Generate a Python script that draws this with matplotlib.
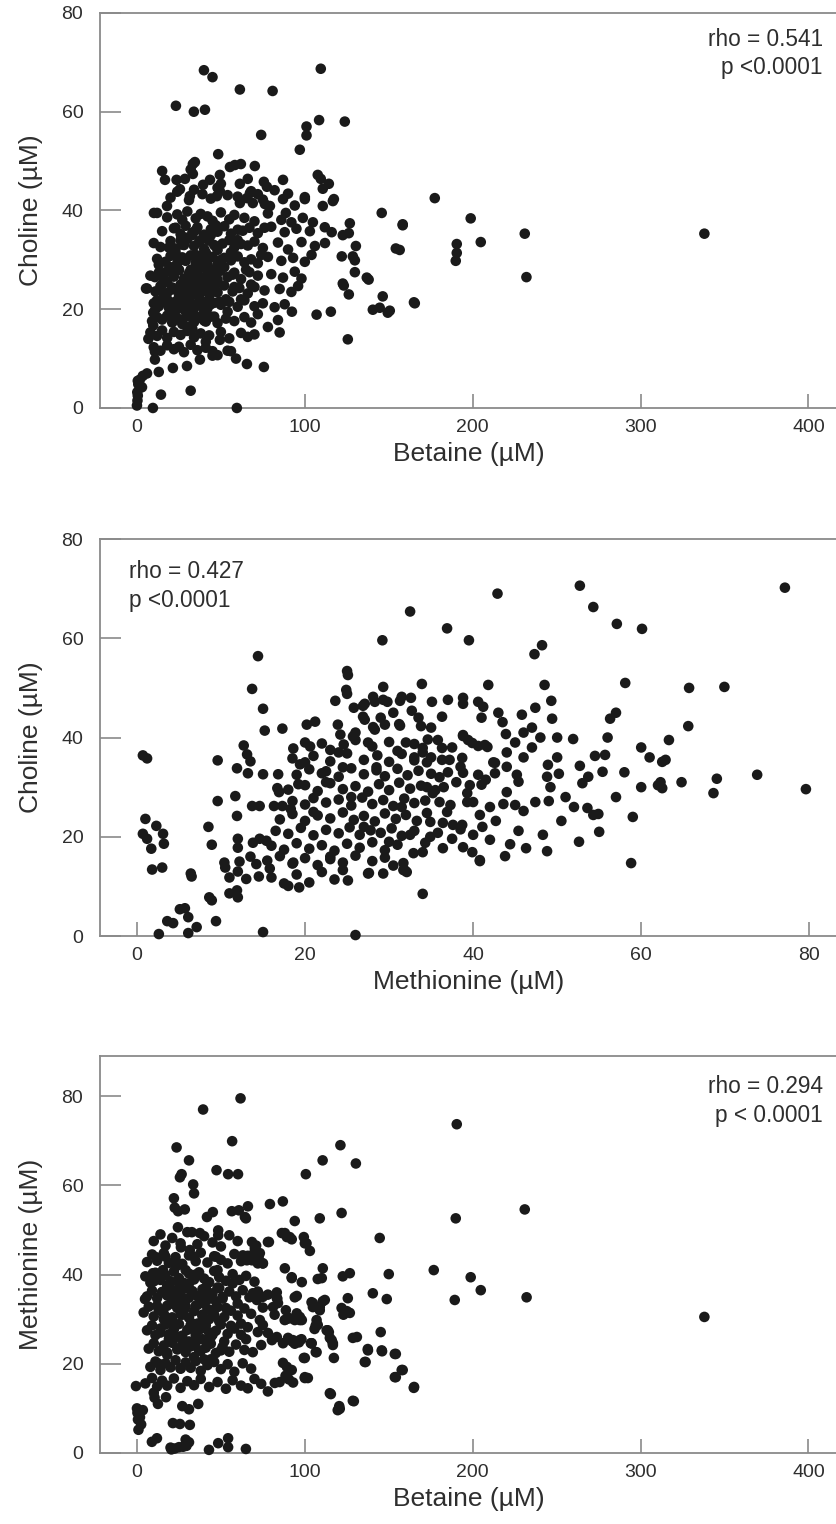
import matplotlib
matplotlib.use("Agg")
import matplotlib.pyplot as plt

plt.rcParams['font.family'] = ['Liberation Sans', 'DejaVu Sans']

# ---------------- Panel 1: Choline vs Betaine ----------------
betaine_1 = [
    39.9, 45, 109.5, 61.3, 80.8, 23.2, 33.9, 40.5, 108.5, 123.8, 101, 101, 74, 97, 48.4,
    15, 16.7, 23.6, 25.6, 28.6, 33.3, 34.5, 32, 33.3, 39.4, 43.5, 31.5, 49.4, 50,
    55.4, 58.3, 61.9, 70.2, 61.3, 66, 49.4, 47.6, 61.3, 67.3, 69, 65.5, 75.6, 77.4,
    72, 76.2, 79.2, 87, 87, 94, 88.7, 100, 107.7, 109.5, 114.3, 110.7, 117.3, 116.7,
    110.7, 10.1, 17.9, 98.8, 104.8, 111.9, 116, 122.6, 126.8, 126.2, 145.8, 158.3,
    154.2, 130.4, 122, 128.6, 129.8, 129.8, 136.9, 138, 122.6, 123.2, 126.2, 146.4,
    140.5, 144.6, 149.4, 150.6, 165, 107, 115.5, 125.6, 92.3,
    177.4, 198.8, 158.3, 156.5, 190.5, 190.5, 189.9, 204.8, 231, 232, 338, 165.5,
    0, 0.3, 0.5, 0.2, 0.8, 9.5, 59.5, 32, 14.3, 0.5, 3.5, 6, 13, 21.4, 29.8, 37.5,
    48, 56, 59, 65.5, 75.6, 5.4, 10.7, 11.9, 9.7, 9.7, 6.8, 10.7, 10.7, 45, 54,
    41, 49.4, 1.7, 3,
]
choline_1 = [
    68.4, 67, 68.7, 64.5, 64.2, 61.2, 60, 60.4, 58.3, 58, 57, 55.2, 55.3, 52.3, 51.4,
    48, 46.2, 46.2, 44.3, 46.4, 49.4, 49.8, 48.3, 47.4, 45.2, 46.2, 42.9, 47.2, 45.4,
    48.8, 49.2, 49.4, 49, 45.4, 46.4, 43.9, 42.9, 41.5, 43.5, 41.5, 42.5, 45.8, 44.8,
    43.3, 41.3, 40.9, 46.2, 42.3, 41, 39.5, 42.3, 47.2, 46.4, 45.4, 44.4, 42.3, 41.9,
    40.9, 39.5, 40.9, 38.5, 37.6, 36.6, 35.6, 35, 37.4, 35.4, 39.5, 37.2,
    32.3, 32.8, 30.7, 30.7, 29.9, 27.5, 26.4, 26, 25.2, 24.8, 23, 22.6,
    19.9, 20.3, 19.3, 19.7, 21.4, 18.9, 19.5, 13.9, 19.5,
    42.5, 38.4, 37, 32, 33.2, 31.4, 29.8, 33.6, 35.3, 26.5, 35.3, 21.2,
    0.5, 1.5, 2.5, 3.2, 4.8, 0, 0, 3.5, 2.7, 5.5, 6.5, 7, 7.3, 8.1, 8.5, 9.8,
    10.7, 11.5, 10, 8.9, 8.3, 24.2, 26.5, 21.8, 19.3, 16.7, 14, 11.4, 9.8, 10.6, 11.6,
    13.4, 13.8, 5.7, 4.2,
]
core_betaine_1 = [
    12, 18, 24, 27, 30, 35, 38, 42, 45, 50, 55, 58, 64, 70, 78, 86, 92,
    15, 22, 26, 29, 33, 36, 40, 44, 48, 52, 56, 60, 63, 67, 72, 80, 88, 95, 103,
    10, 14, 20, 23, 27, 30, 34, 37, 40, 43, 47, 51, 55, 58, 62, 66, 70, 75, 84, 90, 98, 106, 112,
    12, 17, 20, 24, 27, 29, 32, 35, 38, 41, 45, 48, 52, 56, 60, 64, 68, 72, 78, 86, 93, 100, 104,
    8, 13, 16, 19, 22, 25, 28, 31, 33, 36, 39, 42, 46, 50, 54, 58, 62, 67, 72, 80, 87, 94, 98,
    6, 11, 14, 18, 21, 24, 27, 30, 32, 35, 38, 41, 44, 48, 52, 57, 61, 66, 70, 76, 85, 92, 96,
    10, 13, 16, 19, 22, 25, 28, 30, 33, 36, 39, 42, 46, 50, 55, 60, 64, 70, 75, 82, 88,
    9, 12, 15, 18, 21, 24, 27, 30, 34, 37, 40, 44, 48, 53, 58, 64, 68, 78, 84,
    8, 12, 15, 18, 22, 26, 30, 34, 38, 43, 50, 55, 62, 66, 70, 85,
    10, 14, 18, 22, 25, 28, 32, 36, 41, 45,
    20, 24, 31, 34, 39, 44, 48, 54, 60, 68, 75, 82, 90, 100,
    16, 18, 20, 22, 23, 25, 26, 28, 29, 30, 31, 32, 33, 34, 35, 36, 37, 38, 39, 40,
    41, 42, 43, 44, 45, 46, 47, 48, 49, 52, 54, 56, 58, 60, 62, 65, 68, 72, 74, 76,
    17, 19, 21, 23, 24, 26, 27, 29, 30, 32, 33, 35, 36, 38, 39, 41, 43, 44, 46, 47,
    18, 20, 22, 25, 28, 31, 34, 37, 40, 42, 45, 48, 50, 53, 57, 15, 13, 11, 26, 33,
]
core_choline_1 = [
    39.5, 38.6, 39.2, 38.1, 39.8, 38.4, 39.3, 38.8, 37.9, 39.6, 38.2, 39.1, 38.5, 37.8, 39.4, 38.1, 37.6,
    35.8, 36.4, 35.2, 36.9, 35.5, 36.6, 35.1, 36.2, 35.7, 36.8, 35.3, 36.1, 35.9, 36.5, 35.4, 36.7, 35.6, 36.3, 35.8,
    33.4, 32.6, 33.8, 32.3, 33.1, 34.2, 32.8, 33.6, 32.2, 33.9, 32.7, 33.3, 34.0, 32.5, 33.2, 32.9, 33.7, 32.4, 33.5, 32.1, 33.6, 32.8, 33.4,
    30.2, 29.6, 30.8, 29.3, 30.5, 29.8, 30.9, 29.4, 30.3, 29.7, 30.6, 29.2, 30.4, 29.9, 30.7, 29.5, 30.1, 29.3, 30.6, 29.8, 30.4, 29.6, 31.0,
    26.8, 27.4, 26.3, 27.7, 26.6, 27.9, 26.2, 27.3, 26.9, 27.6, 26.4, 27.2, 26.7, 27.8, 26.5, 27.4, 26.1, 27.5, 26.8, 27.1, 26.4, 27.6, 26.2,
    24.2, 23.6, 24.7, 23.3, 24.4, 23.8, 24.9, 23.5, 24.3, 23.1, 24.6, 23.7, 24.1, 23.4, 24.8, 23.6, 24.3, 23.2, 24.5, 23.8, 24.1, 23.5, 24.7,
    21.2, 20.6, 21.7, 20.3, 21.4, 20.8, 21.9, 20.4, 21.1, 20.7, 21.6, 20.2, 21.3, 20.9, 21.5, 20.5, 21.8, 20.6, 21.2, 20.4, 21.0,
    17.6, 18.4, 17.9, 18.7, 17.3, 18.2, 17.8, 18.6, 17.4, 18.3, 17.7, 18.5, 17.2, 18.1, 17.6, 18.4, 17.3, 16.4, 17.8,
    15.3, 14.6, 15.7, 14.2, 15.4, 14.8, 15.6, 14.3, 15.1, 14.7, 15.4, 14.1, 15.2, 14.4, 14.9, 15.3,
    12.3, 11.6, 12.7, 11.9, 12.4, 11.3, 12.8, 11.7, 12.2, 11.5,
    42.6, 43.8, 42.1, 44.2, 43.3, 42.4, 44.6, 43.1, 42.8, 43.9, 42.2, 44.1, 43.4, 42.7,
    23, 25.5, 28.5, 19, 31.5, 22.5, 25, 33, 19.5, 26, 22, 28, 35, 19, 31, 25, 22.5, 34, 28.5, 19.5,
    31.5, 25.5, 22, 35, 28, 18.5, 25, 32, 21.5, 28.5, 19.5, 31.5, 24.5, 34, 22, 28, 25, 19, 31, 36.5,
    27.5, 32.5, 24, 36.5, 20, 30, 17, 34.5, 22, 27, 19, 36, 29, 23.5, 31, 17.5, 26.5, 21, 33, 37,
    22, 19, 31, 28, 23, 16.5, 26, 21, 34.5, 29, 23.5, 26, 30, 22, 27, 25, 29, 20, 34, 16,
]

# ---------------- Panel 2: Choline vs Methionine ----------------
methionine_2 = [
    0.7, 1.2, 1, 0.7, 1.2, 1.7, 2.3, 3.1, 3.2, 1.8, 3, 2.6, 3.6, 4.3, 5.1, 5.7, 6.1, 6.1, 7.1,
    6.4, 6.5, 8.5, 8.9, 8.6, 8.9, 9.4, 9.6, 9.6, 10.4, 10.5, 11, 11, 11.9, 12, 11.9, 11.9,
    11.7, 12, 12, 12.2, 12, 12.7, 13.1, 13.5, 13.2, 13.7, 14.4, 15, 15.2, 15, 15, 13.7,
    14.6, 16.3, 17.3, 18.3, 13.8, 14.6, 15.4, 13.5, 14.2, 13, 14.5, 15.8, 17.3, 16.8,
    16.7, 16.9, 17.5, 18, 18.6, 19.3, 18.6, 19.4, 19.2, 20.2, 21.2, 20.6, 22, 22, 23.6,
    25, 25.1, 25, 23.9, 24.2, 24.6, 25.7, 25.8, 26.9, 27.1, 28.3, 29.3, 29.3, 29.2, 28.3,
    29.5, 31.3, 31.3, 32.6, 32.7, 32.5, 25.1, 26, 27.5, 29.3, 30.5, 31.9, 34,
    52.7, 77.1, 42.9, 54.3, 57.1, 60.1, 36.9, 39.5, 48.2, 47.3, 58.1, 65.7, 69.9, 56.3,
    65.6, 63.3, 62.5, 62.9, 62, 62.5, 62.3, 64.8, 69, 68.6, 73.8, 79.6, 58.8, 51.9, 54.5,
    55.7, 52.7, 53.7, 53, 55.4, 53.6, 54.3, 54.9, 52.6, 50.5, 50.2, 48.8, 48.3, 49, 47.4,
    46.3, 43.8, 44.4, 40.8, 42, 45.4, 42.7, 43.6, 45, 46, 48.9, 48.8, 49.2, 49.4, 49.3,
    47.4, 45.8, 48.5, 41.8, 43, 43.5, 43.9, 40.6, 41.2, 41, 38.8, 38.8, 37, 35.1, 33.9,
    36.3, 33.8, 38.8, 39.4, 40.6, 41.7, 34, 35.8, 36.3, 36.3, 38.7, 38.5, 38.8, 40.6,
    41.5, 42.6, 41, 42.6, 44, 45.2, 45.4, 39.3, 39.3, 37.3, 36.9, 35.2, 34.5, 34.9, 36.4,
    37.6, 38.7, 37.5, 38.5, 35.8, 34.9, 34.3, 34, 32.9, 32.5, 36.4, 39.9, 38.8, 39.6,
    31.7, 40.8, 41.1, 40, 40.8, 32.1, 31.7, 27.6, 29.8, 31.5, 31.2, 28.1, 26.9, 28.1,
    27.1, 25.8, 24.9, 38.8, 39.9, 41.4, 35, 34.5, 37.2, 42.4, 36, 37, 55, 51, 52, 50,
    57, 58, 59, 60, 61, 56, 57, 60, 47, 46, 45, 48, 44,
]
choline_2 = [
    36.4, 35.8, 23.6, 20.6, 19.6, 17.6, 22.2, 20.6, 18.6, 13.4, 13.8, 0.4, 3, 2.6, 5.4, 5.6, 3.8, 0.6, 1.8,
    12.6, 12, 22, 18.4, 7.8, 7.2, 3, 35.4, 27.2, 14.8, 13.8, 11.8, 8.6, 9.2, 7.8, 33.8, 24.2,
    28.2, 19.6, 17.8, 15, 13, 38.4, 36.6, 35.2, 32.8, 49.8, 56.4, 45.8, 41.4, 32.6, 0.8, 26.2,
    26.2, 26.2, 26.2, 25.6, 18.8, 19.6, 19.2, 16, 14.5, 11.5, 12, 13.6, 41.8, 32.6,
    29.8, 29, 10.6, 10.1, 14.8, 9.8, 37.8, 34.6, 30.6, 42.6, 43.2, 38.2, 38.8, 32.8, 47.4,
    48.8, 52.6, 53.4, 42.6, 40.6, 38.6, 40.2, 46, 46.4, 43.6, 47.2, 47.6, 50.2, 59.6, 41.6,
    42.6, 42.4, 47.4, 48, 45.4, 65.4, 11.2, 0.2, 12.6, 12.6, 14.2, 13.2, 8.5,
    70.6, 70.2, 69, 66.3, 62.9, 61.9, 62, 59.6, 58.6, 56.8, 51, 50, 50.2, 43.8,
    42.3, 39.5, 35.1, 35.5, 30.4, 29.8, 31, 31, 31.7, 28.8, 32.5, 29.6, 14.7, 39.7, 36.3,
    36.5, 34.3, 32.1, 30.8, 33.1, 25.8, 24.4, 24.6, 19, 23.2, 32.7, 17.1, 20.4, 27.2, 27,
    17.7, 16.1, 18.5, 15.1, 19.4, 21.2, 23.2, 26.6, 26.4, 25.2, 34.5, 32.1, 30, 43.8, 47.4,
    46, 44.6, 50.6, 50.6, 45, 43.1, 40.7, 47.2, 46.2, 44, 48, 46.8, 47.6, 47.2, 50.8,
    44.2, 42.3, 40.5, 39.5, 38.3, 38.1, 37.9, 39.5, 37.9, 35.5, 35.9, 34.1, 32.9, 32.5,
    31.5, 32.8, 30.5, 34.9, 34.1, 32.5, 31.1, 28.8, 27, 26.4, 25, 28.8, 24.8, 23, 22.8,
    22.4, 22.4, 19.6, 21.5, 20.8, 20, 18.8, 16.9, 16.7, 20.4, 17.7, 16.9, 17.9, 30.4,
    13.3, 24.4, 22, 20.4, 15.3, 12.9, 14.7, 12.7, 47.2, 48.2, 42.7, 42.1, 44.2, 48.2,
    46.8, 40.3, 49.6, 40.3, 38.9, 38.5, 36, 35, 35.5, 35, 32, 33, 21, 28, 26, 36,
    28, 33, 24, 30, 36, 40, 45, 38, 38, 41, 39, 40, 37,
]
core_methionine_2 = [
    20, 23, 26, 28, 30, 31, 33, 34.6,
    18.5, 21, 23, 25, 27, 28.6, 30, 31.5, 33, 34,
    19, 20.5, 22.5, 24, 25.5, 27, 28.5, 29.5, 31, 32.2, 33.5, 35,
    18, 20, 21.5, 23, 24.5, 26, 27.5, 28.8, 30, 31.2, 32.5, 33.8, 35.5,
    18.5, 20, 21, 22.5, 24, 25.5, 26.8, 28, 29.3, 30.5, 31.8, 33, 34.3,
    17, 18.5, 20, 21.5, 23, 24.5, 25.8, 27, 28.3, 29.5, 30.8, 32, 33.3,
    16.5, 18, 19.5, 21, 22.5, 24, 25.3, 26.5, 27.8, 29, 30.3, 31.5, 33,
    16, 17.5, 19, 20.5, 22, 23.5, 25, 26.5, 28, 29.5, 31,
    15.5, 17, 18.5, 20, 21.5, 23, 24.5, 26, 28, 29.5,
    16, 19, 20.5, 22, 23.5, 24.5,
    21, 22.5, 24, 25.5, 27, 28.5, 30, 31.5, 33, 34.5, 36, 37.5, 26, 29, 32,
    35, 23, 20, 38, 40, 44, 46, 42, 47, 50, 36.5, 33.5, 30.5, 27.5, 24.5,
]
core_choline_2 = [
    39, 37.5, 39.5, 38.2, 39.1, 37.3, 38.7, 39.6,
    35.8, 36.3, 35.2, 36.8, 35.5, 36.4, 35.1, 36.7, 35.4, 37,
    32.5, 33.6, 33.2, 32.1, 33.8, 32.6, 33.4, 32.2, 33.7, 32.4, 33.3, 32.7,
    29.5, 30.4, 29.2, 30.8, 29.6, 30.2, 29.1, 30.6, 29.4, 30.9, 29.7, 30.3, 29.4,
    27.2, 26.5, 27.8, 26.9, 27.5, 26.3, 27.9, 26.6, 27.4, 26.2, 27.7, 26.8, 27.3,
    23.5, 24.6, 23.2, 24.3, 23.7, 24.9, 23.4, 24.2, 23.1, 24.7, 23.6, 24.4, 23.2,
    21.2, 20.6, 21.8, 20.3, 21.4, 20.7, 21.9, 20.4, 21.3, 20.8, 21.7, 20.2, 21.2,
    18.2, 17.4, 18.7, 17.6, 18.3, 17.2, 18.6, 17.8, 18.9, 17.3, 18.4,
    15.2, 16.1, 14.6, 15.7, 14.3, 15.5, 14.8, 16.2, 15.1, 15.8,
    11.8, 12.4, 10.8, 12.9, 11.4, 13.3,
    25, 31, 37, 28, 22, 34, 19, 26, 36, 30, 27, 38, 41, 44, 39,
    42, 16, 35, 31, 27, 29, 36, 26, 42, 40, 30, 44, 45, 39, 34,
]

# ---------------- Panel 3: Methionine vs Betaine ----------------
betaine_3 = [
    61.7, 39.4, 56.7, 23.6, 31, 26.6, 25.6, 33.5, 34, 47.4, 54.3, 60.2, 100.6, 110.6, 121.2,
    130.4, 121.9, 108.9, 94, 86.9, 79.2, 66.1, 64.9, 56.5, 60.7, 41.7, 45.2, 22, 22.5, 24.5,
    28.5, 24.4, 32.7, 37.5, 48.4, 48.4, 26.2, 31.5, 78.6, 88.1, 91, 99.4, 100, 103, 71,
    70, 72.5, 63.1, 75, 11.3, 9.5, 15.5, 10.1, 4.8, -0.6, 0, 0.3, 0.6, 0.9, 1.8, 2.5, 3.5,
    8.9, 11.9, 20, 22.5, 25, 27.5, 29.5, 20.5, 29, 31, 42.9, 48.4, 54.3, 54.3, 64.9, 21.4,
    25.6, 31.5, 27, 31, 36.5, 10.5, 12.5, 10, 17.3,
    120.5, 129.2, 115.5, 117.3, 153.6, 157.7, 165.1, 136.2, 137.6, 146, 153.6, 128.6, 131,
    145.2, 140.5, 148.8, 150, 144.6, 121.9, 125, 126.8, 123, 125.6, 122.6, 126.8, 110.7,
    110.1, 107.7, 110.7, 108.9, 104.8, 114.3, 116, 116.7, 107, 106.5, 105.8, 106.5, 104,
    99.4, 100, 101.8, 98.2, 97, 98, 96.5, 94, 92.5, 98.2, 92.2, 94, 88.7, 89, 83.3, 83.6,
    87, 89.3, 92.2, 88.5, 90.5, 93, 82.1, 190.5, 231, 189.9, 176.8, 198.8, 204.8, 189.3,
    232.1, 338, 113.7, 114.9, 137.5, 135.7, 145.8, 154.2, 158.3, 154.2, 164.9, 100, 100,
    120.8, 128.6, 103.6,
    86.3, 89.3, 92.2, 101, 78, 88.1, 92.2, 83.3, 84, 81, 95.2, 104, 104.8, 108.9, 111.9,
    107.7, 113, 116.7, 88, 91, 94, 97, 95.2, 69, 71.4, 75, 73.2, 75, 78, 80.4, 83.3, 87,
    90, 92.9, 97, 104, 107, 85, 114.9, 119.6, 65.5, 68.5, 72, 64.3, 68.5, 70.2, 73.2, 75,
]
methionine_3 = [
    79.5, 77, 69.9, 68.5, 65.6, 62.5, 61.8, 60.2, 58.2, 63.4, 62.5, 62.5, 62.5, 65.6, 69,
    64.9, 53.8, 52.6, 52, 56.4, 55.8, 55.3, 52.6, 54.2, 54.4, 52.9, 54, 57.1, 55, 54.2,
    54.6, 50.6, 49.5, 49.3, 49.9, 48.8, 46.1, 45.5, 47.3, 49.3, 48.4, 48.4, 47, 45.3, 46.5,
    45, 44, 44.3, 42.5, 43.9, 40.3, 41, 38.5, 34.5, 15, 10, 9, 7.5, 5.2, 8, 6.4, 9.6,
    2.5, 3.3, 1.2, 1.0, 1.3, 1.4, 1.6, 0.8, 3, 2.4, 0.7, 2.2, 3.3, 1.3, 0.9, 6.7,
    6.5, 6.3, 10.5, 9.8, 11, 12.4, 11, 13.5, 12.5,
    10.5, 11.6, 13.2, 21.3, 17, 18.6, 14.8, 20.4, 23, 22.8, 22.2, 25.8, 26,
    27.1, 35.8, 34.5, 40.1, 48.2, 32.5, 31.8, 31.4, 31, 34.7, 39.6, 40.3, 41.4,
    39.2, 39, 34, 32.7, 33.6, 27.1, 25.3, 24.2, 29.8, 28.6, 27.8, 22.6, 24.6,
    21.3, 16.8, 16.8, 29.8, 30.5, 25.5, 24.8, 24.5, 25, 38.3, 39.4, 34.9, 32, 30, 36, 34.6,
    20.2, 19.3, 18.6, 17.3, 16.5, 15.8, 15.7, 73.7, 54.6, 52.6, 41, 39.4, 36.5, 34.3,
    34.9, 30.5, 27.5, 25.8, 23.3, 20.4, 23, 22.2, 18.6, 17, 14.6, 21.3, 17,
    9.9, 11.7, 24.6,
    49.3, 48.4, 47.9, 47, 47.3, 41.4, 39.2, 34.7, 33.6, 32.7, 35.2, 33.8, 32.7, 32, 34.3,
    28.7, 27.5, 24.6, 29.8, 30.2, 29.8, 29.8, 31.3, 35.8, 34.3, 35, 29.8, 28.7, 26.9, 25.3,
    26, 24.6, 25.8, 25.3, 25.3, 24.6, 22.6, 15.9, 13.4, 9.6, 43.2, 43.2, 42.5, 52.9, 47.3,
    45.9, 44.8, 42.5,
]
core_betaine_3 = [
    10, 14, 17, 21, 26, 30, 36, 40, 45, 50, 55, 60,
    6, 9, 12, 16, 19, 23, 27, 31, 35, 38, 42, 46, 50, 54, 58, 62, 66,
    5, 8, 11, 14, 17, 20, 22, 25, 28, 31, 34, 37, 40, 43, 46, 49, 53, 57, 61, 65, 70,
    6, 9, 12, 15, 18, 20, 23, 26, 28, 31, 33, 36, 39, 42, 45, 48, 51, 55, 59, 63, 67, 72, 78,
    4, 7, 10, 13, 16, 18, 21, 24, 26, 29, 31, 34, 36, 39, 42, 45, 48, 52, 56, 60, 64, 68, 75, 82,
    6, 9, 11, 14, 17, 19, 22, 25, 27, 30, 32, 35, 38, 41, 44, 47, 50, 54, 58, 62, 66, 72,
    7, 10, 13, 16, 18, 21, 24, 27, 29, 32, 35, 38, 41, 44, 47, 51, 55, 59, 64, 69, 74,
    8, 11, 14, 17, 20, 23, 26, 29, 32, 35, 38, 42, 46, 50, 54, 58, 63, 68,
    5, 9, 12, 15, 18, 22, 26, 30, 34, 38, 43, 48, 53, 57, 62, 66, 70, 74, 78,
    16, 18, 19, 21, 22, 24, 25, 27, 28, 30, 31, 33, 34, 35, 37, 39, 40, 41, 43, 44,
    45, 47, 49, 52, 53, 56, 57, 60, 62, 65,
    12, 14, 16, 18, 20, 22, 24, 26, 28, 30, 32, 34, 36, 38, 40, 42, 44, 46, 48, 50,
    13, 17, 21, 25, 29, 33, 37, 41, 45, 49, 15, 19, 23, 27, 31, 35, 39, 43, 47, 51,
]
core_methionine_3 = [
    47.5, 49, 46.5, 48.2, 47, 49.5, 46.8, 48.6, 47.2, 46.3, 48.8, 47.5,
    42.8, 44.5, 43.1, 44.8, 42.6, 43.9, 42.4, 44.3, 43, 44.9, 42.7, 44.1, 43.3, 42.5, 44.6, 43, 44.2,
    39.6, 38.2, 40.4, 38.8, 39.9, 38.5, 40.7, 39.2, 38.1, 40.2, 38.9, 40.5, 39.1, 38.3, 40.8, 39.4, 38.6, 40.1, 38.8, 39.7, 38.4,
    35.1, 36.4, 34.7, 36.1, 35.3, 36.8, 34.5, 35.9, 37, 34.8, 36.3, 35.2, 36.7, 34.4, 35.8, 37.1, 34.6, 36.2, 35.1, 36.5, 34.9, 36.2, 35.5,
    31.5, 32.8, 30.6, 32.1, 31.2, 33, 30.4, 32.5, 31.1, 32.9, 30.3, 31.8, 33.2, 30.7, 32.3, 31, 32.7, 30.5, 31.9, 30.8, 32.4, 31.2, 32.6, 31,
    27.5, 28.6, 26.4, 27.9, 28.8, 26.6, 27.7, 28.9, 26.3, 27.6, 28.7, 26.5, 27.8, 28.6, 26.9, 27.4, 28.8, 26.7, 27.9, 26.5, 28.2, 27.1,
    23.4, 24.6, 22.8, 24.1, 22.5, 24.7, 23.2, 24.4, 22.6, 23.9, 24.8, 22.9, 23.6, 24.5, 22.4, 23.8, 22.7, 24.3, 23.1, 22.6, 24.2,
    19.3, 20.5, 18.6, 20.1, 19.2, 20.8, 18.9, 20.3, 19.1, 20.6, 18.4, 19.7, 20.4, 18.8, 19.9, 18.2, 20.1, 18.9,
    15.6, 16.8, 14.9, 16.2, 15.1, 16.7, 14.6, 16.1, 15.2, 16.6, 14.8, 15.9, 14.4, 16.3, 15.1, 14.5, 16.6, 15.5, 13.8,
    30, 37.5, 25.5, 33.5, 29, 36.5, 26, 31, 34.5, 24, 38, 28, 21.5, 33, 29, 25.5, 33.5, 37, 30, 21,
    26.5, 34, 29.5, 25, 32.5, 28.5, 38, 33.5, 29, 25.5,
    33, 27, 40, 22, 35, 28, 42, 19, 32, 37, 24, 44, 29, 34, 21, 38, 26, 31, 41, 23,
    20, 44, 26, 38, 41, 29, 23, 35, 32, 37, 36, 30, 43, 33, 25, 40, 31, 27, 44, 35,
]

# ---------------- Labels / annotations ----------------
x_labels = ["Betaine (µM)", "Methionine (µM)", "Betaine (µM)"]
y_labels = ["Choline (µM)", "Choline (µM)", "Methionine (µM)"]
rho_texts = ["rho = 0.541", "rho = 0.427", "rho = 0.294"]
p_texts = ["p <0.0001", "p <0.0001", "p < 0.0001"]
x_ticks = [[0, 100, 200, 300, 400], [0, 20, 40, 60, 80], [0, 100, 200, 300, 400]]
y_ticks = [[0, 20, 40, 60, 80], [0, 20, 40, 60, 80], [0, 20, 40, 60, 80]]

panels = [
    (betaine_1 + core_betaine_1, choline_1 + core_choline_1),
    (methionine_2 + core_methionine_2, choline_2 + core_choline_2),
    (betaine_3 + core_betaine_3, methionine_3 + core_methionine_3),
]
xlims = [(-22, 417), (-4.4, 83.3), (-22, 417)]
ylims = [(0, 80), (0, 80), (0, 89)]
positions = [
    [0.1195, 0.7323, 0.8805, 0.2592],
    [0.1195, 0.3858, 0.8805, 0.2605],
    [0.1195, 0.0466, 0.8805, 0.2605],
]
text_pos = [
    ("right", 0.981, 0.932, 0.861),
    ("left", 0.039, 0.917, 0.846),
    ("right", 0.981, 0.922, 0.851),
]

SPINE = "#8a8a8a"
TXT = "#2e2e2e"
DOT = "#1a1a1a"

fig = plt.figure(figsize=(8.37, 15.24), dpi=100)
for i in range(3):
    ax = fig.add_axes(positions[i])
    xs, ys = panels[i]
    ax.scatter(xs, ys, s=58, color=DOT, edgecolors="none", clip_on=False, zorder=3)
    ax.set_xlim(*xlims[i])
    ax.set_ylim(*ylims[i])
    ax.set_xticks(x_ticks[i])
    ax.set_yticks(y_ticks[i])
    for side in ("left", "bottom", "top"):
        ax.spines[side].set_color(SPINE)
        ax.spines[side].set_linewidth(1.3)
    ax.spines["right"].set_visible(False)
    ax.tick_params(axis="x", direction="in", length=10, width=1.2, color=SPINE,
                   labelsize=14, labelcolor=TXT, pad=8)
    ax.tick_params(axis="y", direction="in", length=15, width=1.2, color=SPINE,
                   labelsize=14, labelcolor=TXT, pad=12)
    ax.set_xlabel(x_labels[i], fontsize=19, color=TXT, labelpad=4)
    ax.set_ylabel(y_labels[i], fontsize=19, color=TXT, labelpad=13)
    ha, tx, ty1, ty2 = text_pos[i]
    ax.text(tx, ty1, rho_texts[i], transform=ax.transAxes, ha=ha, va="center",
            fontsize=16.3, color=TXT)
    ax.text(tx, ty2, p_texts[i], transform=ax.transAxes, ha=ha, va="center",
            fontsize=16.3, color=TXT)

fig.savefig("out.png", dpi=100, facecolor="white")
